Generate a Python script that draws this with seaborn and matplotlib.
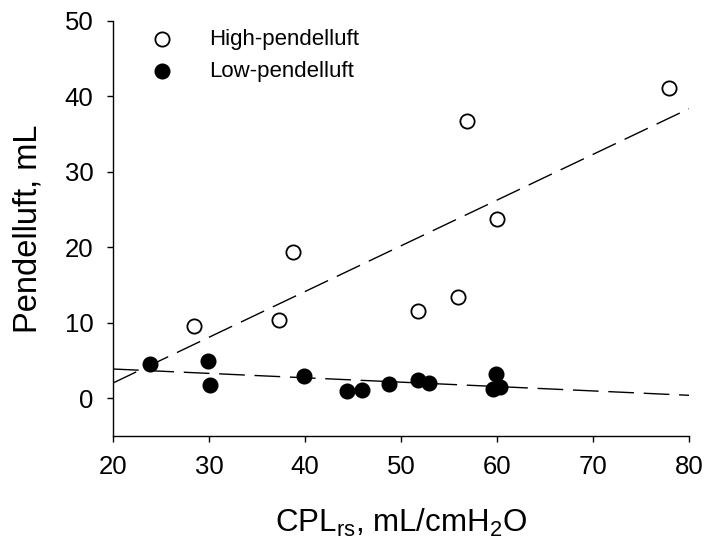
import numpy as np
import matplotlib
matplotlib.use("Agg")
import matplotlib.pyplot as plt
import seaborn as sns

# Data
high_x = [28.4, 37.3, 38.8, 51.8, 55.9, 56.9, 60.0, 77.9]
high_y = [9.6, 10.4, 19.3, 11.5, 13.4, 36.7, 23.7, 41.1]
low_x = [23.9, 29.9, 30.1, 39.9, 44.4, 45.9, 48.8, 51.8, 52.9, 59.9, 59.6, 60.3]
low_y = [4.6, 4.9, 1.7, 2.95, 0.97, 1.06, 1.94, 2.47, 2.07, 3.26, 1.19, 1.5]
series_labels = ["High-pendelluft", "Low-pendelluft"]
x_ticks = [20, 30, 40, 50, 60, 70, 80]
y_ticks = [0, 10, 20, 30, 40, 50]

sns.set_theme(style="ticks")
plt.rcParams["font.family"] = ["Liberation Sans", "DejaVu Sans"]
plt.rcParams["mathtext.default"] = "regular"
for k in ("text.color", "axes.labelcolor", "xtick.color", "ytick.color", "axes.edgecolor"):
    plt.rcParams[k] = "black"

fig = plt.figure(figsize=(7.04, 5.54), dpi=100)
ax = fig.add_axes([0.1605, 0.213, 0.8182, 0.7497])

sns.scatterplot(x=high_x, y=high_y, ax=ax, marker="o", s=105, facecolor="white",
                edgecolor="black", linewidth=1.3, label=series_labels[0], zorder=3)
sns.scatterplot(x=low_x, y=low_y, ax=ax, marker="o", s=105, color="black",
                edgecolor="black", linewidth=1.3, label=series_labels[1], zorder=3)

xs = np.array([20, 80])
for xd, yd in ((high_x, high_y), (low_x, low_y)):
    m, b = np.polyfit(xd, yd, 1)
    sns.lineplot(x=xs, y=m * xs + b, ax=ax, color="black", linewidth=1.0,
                 dashes=False, zorder=2)
    ax.lines[-1].set_dashes((18.5, 7))

ax.set_xlim(20, 80)
ax.set_ylim(-5, 50)
ax.set_xticks(x_ticks)
ax.set_yticks(y_ticks)
ax.tick_params(axis="both", labelsize=18.5, length=4, width=1, pad=10, colors="black")
for s in ("top", "right"):
    ax.spines[s].set_visible(False)
for s in ("left", "bottom"):
    ax.spines[s].set_linewidth(1.0)
    ax.spines[s].set_color("black")

ax.set_xlabel(r"CPL$_{rs}$, mL/cmH$_2$O", fontsize=22.5, labelpad=20)
ax.set_ylabel("Pendelluft, mL", fontsize=23.5, labelpad=15)

leg = ax.legend(loc="upper left", bbox_to_anchor=(0.066, 0.98), frameon=False,
                fontsize=16, handlelength=1.0, handletextpad=1.6, labelspacing=0.5,
                borderpad=0, borderaxespad=0)

fig.savefig("out.png", dpi=100)
